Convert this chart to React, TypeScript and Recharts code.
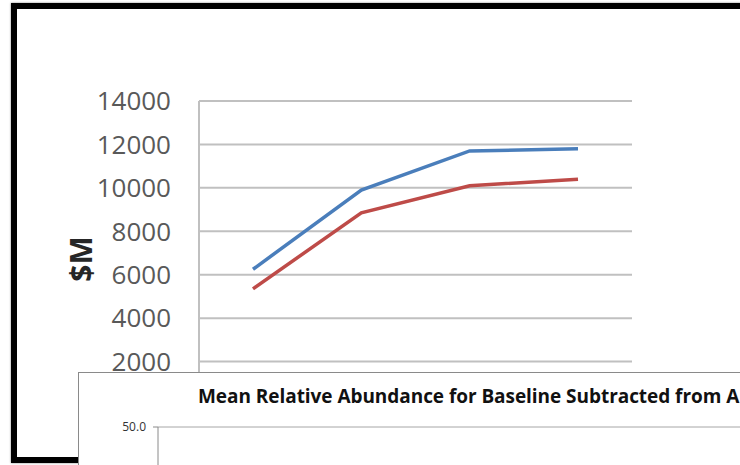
import React from "react";
import { LineChart, Line, XAxis, YAxis, CartesianGrid, Label } from "recharts";

// spending series, $M
const PERIODS = ["P1", "P2", "P3", "P4"];
const BLUE_SERIES = [6250, 9900, 11700, 11800];
const RED_SERIES = [5350, 8850, 10100, 10400];
const Y_TICKS = [0, 2000, 4000, 6000, 8000, 10000, 12000, 14000];

// second panel (abundance chart), only its top edge shows
const ABUNDANCE_TITLE = "Mean Relative Abundance for Baseline Subtracted from A";
const ABUNDANCE_GROUPS = ["A", "B", "C", "D"];
const ABUNDANCE_TICKS = [50];

const spendData = PERIODS.map((p, i) => ({ period: p, blue: BLUE_SERIES[i], red: RED_SERIES[i] }));
const abundanceData = ABUNDANCE_GROUPS.map((g) => ({ group: g }));

const FONT = "'Open Sans', 'Noto Sans', sans-serif";

const AxisTitle = ({ viewBox }: any) => {
  const cx = viewBox.x + 80;
  const cy = viewBox.y + viewBox.height / 2 + 6;
  return (
    <text
      x={cx}
      y={cy}
      transform={`rotate(-90 ${cx} ${cy})`}
      textAnchor="middle"
      dominantBaseline="central"
      fontFamily={FONT}
      fontWeight={700}
      fontSize={30}
      fill="#262626"
    >
      $M
    </text>
  );
};

export default function App() {
  return (
    <div
      style={{
        position: "fixed",
        left: 0,
        top: 0,
        width: 740,
        height: 465,
        overflow: "hidden",
        background: "#fff",
        fontFamily: FONT,
      }}
    >
      {/* black frame around the first chart */}
      <div
        style={{
          position: "absolute",
          left: 11,
          top: 3,
          width: 800,
          height: 460,
          boxSizing: "border-box",
          border: "6px solid #000",
          boxShadow: "0 0 2px rgba(0,0,0,0.5)",
        }}
      />

      <div style={{ position: "absolute", left: 0, top: 0 }}>
        <LineChart
          width={740}
          height={465}
          data={spendData}
          margin={{ top: 101, right: 108, bottom: 60, left: 0 }}
        >
          <CartesianGrid vertical={false} stroke="#c0c0c0" strokeWidth={2} />
          <XAxis dataKey="period" hide padding={{ left: 54, right: 54 }} />
          <YAxis
            width={199}
            domain={[0, 14000]}
            ticks={Y_TICKS}
            interval={0}
            tickLine={false}
            tickMargin={22}
            axisLine={{ stroke: "#c0c0c0", strokeWidth: 2 }}
            tick={{ fill: "#595959", fontSize: 26, fontFamily: FONT }}
          >
            <Label content={<AxisTitle />} />
          </YAxis>
          <Line
            dataKey="blue"
            stroke="#4a7ebb"
            strokeWidth={3.5}
            dot={false}
            isAnimationActive={false}
          />
          <Line
            dataKey="red"
            stroke="#be4b48"
            strokeWidth={3.5}
            dot={false}
            isAnimationActive={false}
          />
        </LineChart>
      </div>

      {/* overlapping abundance panel */}
      <div
        style={{
          position: "absolute",
          left: 78,
          top: 372,
          width: 720,
          height: 200,
          boxSizing: "border-box",
          background: "#fff",
          borderTop: "1.5px solid #8a8a8a",
          borderLeft: "1.5px solid #8a8a8a",
        }}
      />
      <div style={{ position: "absolute", left: 78, top: 372, height: 93, overflow: "hidden" }}>
        <LineChart
          width={700}
          height={420}
          data={abundanceData}
          margin={{ top: 55, right: 10, bottom: 20, left: 0 }}
        >
          <CartesianGrid vertical={false} stroke="#a6a6a6" />
          <XAxis dataKey="group" hide />
          <YAxis
            width={80}
            type="number"
            domain={[0, 50]}
            allowDataOverflow
            ticks={ABUNDANCE_TICKS}
            interval={0}
            tickFormatter={(v: number) => v.toFixed(1)}
            tickSize={5}
            tickMargin={7}
            stroke="#8a8a8a"
            tick={{ fill: "#333", fontSize: 12, fontFamily: FONT }}
          />
        </LineChart>
      </div>
      <div
        style={{
          position: "absolute",
          left: 198,
          top: 383,
          whiteSpace: "nowrap",
          fontWeight: 700,
          fontSize: 19,
          letterSpacing: -0.05,
          color: "#111",
          lineHeight: "26px",
        }}
      >
        {ABUNDANCE_TITLE}
      </div>
    </div>
  );
}
